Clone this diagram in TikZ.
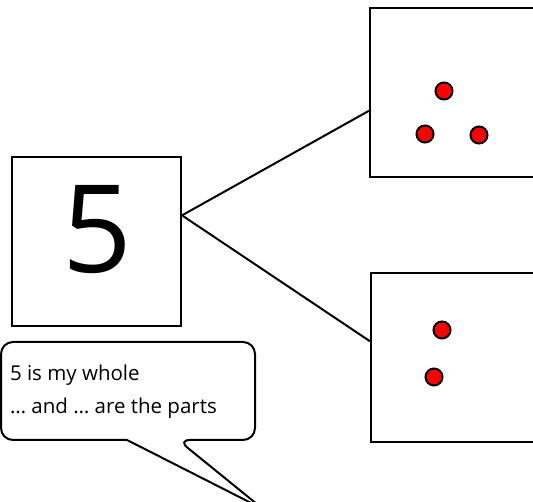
\documentclass[tikz,border=0pt]{standalone}
\usepackage{fontspec}
\setmainfont{Open Sans}
\begin{document}
\begin{tikzpicture}[x=1pt,y=1pt,line width=2pt,
  numbox/.style={draw,minimum width=169pt,minimum height=169pt,inner sep=0pt},
  partbox/.style={draw,minimum width=170pt,minimum height=169pt,inner sep=0pt},
  counter/.style={circle,draw,fill=red,minimum size=17pt,inner sep=0pt},
  bubbletext/.style={anchor=base west,inner sep=0pt,font=\fontsize{20.5}{20.5}\selectfont}]
 \useasboundingbox (0,0) rectangle (533,502);
 \clip (0,0) rectangle (533,502);
 % whole and parts
 \node[numbox] (whole) at (96.5,260.5) {};
 \node[font=\fontsize{122}{122}\selectfont] (whole num) at (97,272) {5};
 \node[partbox] (parta) at (455,409.5) {};
 \node[partbox] (partb) at (456,144) {};
 \draw (whole.17) -- (parta.192);
 \draw (whole.17) -- (partb.169);
 % counters
 \node[counter] (a1) at (444,411) {};
 \node[counter] (a2) at (425,368) {};
 \node[counter] (a3) at (479,367) {};
 \node[counter] (b1) at (442,172) {};
 \node[counter] (b2) at (434,125) {};
 % speech bubble
 \coordinate (tip) at (263,-7);
 \draw[rounded corners=12pt,fill=white] (127,62) -- (1,62) -- (1,160) -- (255,160) -- (255,62) -- (178,62) [sharp corners]-- (tip) -- (127,62);
 \node[bubbletext] (whole text) at (9,121) {5 is my whole};
 \node[bubbletext] (parts text) at (9,88) {\dots{} and \dots{} are the parts};
\end{tikzpicture}
\end{document}
